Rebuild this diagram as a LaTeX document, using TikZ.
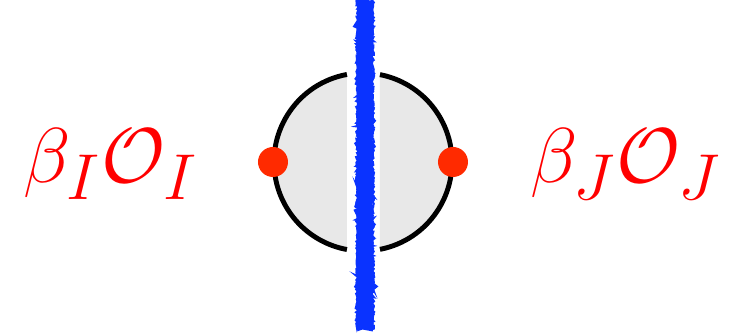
\documentclass[tikz,border=0pt]{standalone}
\usepackage{amsmath,amssymb}
\usepackage{tikz}
\usetikzlibrary{decorations.pathmorphing}
\definecolor{dotred}{HTML}{FF2A00}
\definecolor{cutblue}{HTML}{0A33FF}
\definecolor{halfgray}{HTML}{E8E8E8}

\begin{document}
\begin{tikzpicture}[x=0.02cm,y=0.02cm,every node/.style={font=\Huge,scale=1.78}]
 \useasboundingbox (-363,-172) rectangle (371,162);
 \coordinate (o) at (0,0);
 \coordinate (l) at (-90,0); \coordinate (r) at (90,0);
 \coordinate (top) at (2,162); \coordinate (bot) at (2,-168);
 \fill[halfgray] (100.4:89) arc (100.4:259.6:89) -- cycle;
 \fill[halfgray] (-79:89) arc (-79:79:89) -- cycle;
 \draw[line width=2.8pt] (100.4:89) arc (100.4:259.6:89);
 \draw[line width=2.8pt] (-79:89) arc (-79:79:89);
 \draw[cutblue,line width=9pt,decorate,decoration={random steps,segment length=1pt,amplitude=0.5pt}] (top)--(bot);
 \foreach \s in {-1,1}{\draw[cutblue,line width=1.2pt,decorate,decoration={random steps,segment length=0.8pt,amplitude=0.8pt}] ([xshift=4.3pt*\s]top)--([xshift=4.3pt*\s]bot);}
 \foreach \x in {l,r}{\fill[dotred] (\x) circle (15);}
 \node[red] (opI) at (-252,-2) {$\beta_I\mathcal{O}_I$};
 \node[red] (opJ) at (263,-2) {$\beta_J\mathcal{O}_J$};
\end{tikzpicture}
\end{document}
